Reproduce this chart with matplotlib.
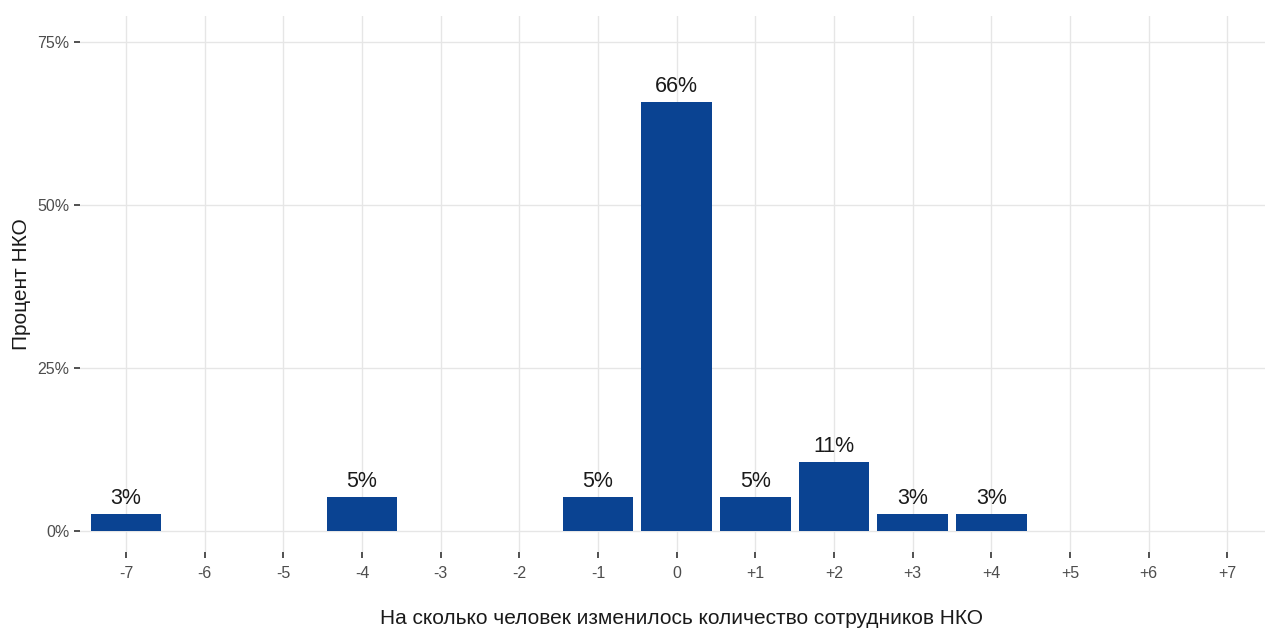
import matplotlib
matplotlib.use('Agg')
import matplotlib.pyplot as plt
from matplotlib.ticker import FuncFormatter

plt.rcParams['font.family'] = ['Liberation Sans', 'DejaVu Sans']

# change in staff count and share of NGOs (%)
changes = [-7, -4, -1, 0, 1, 2, 3, 4]
shares = [2.63, 5.26, 5.26, 65.79, 5.26, 10.53, 2.63, 2.63]
tick_values = list(range(-7, 8))
tick_labels = [('+%d' % v if v > 0 else str(v)) for v in tick_values]
y_ticks = [0, 25, 50, 75]

fig = plt.figure(figsize=(12.65, 6.28), dpi=100)
ax = fig.add_axes([80 / 1265, 1 - 552 / 628, 1185 / 1265, 536 / 628])

ax.bar(changes, shares, width=0.9, color='#0a4392', zorder=3)
for x, s in zip(changes, shares):
    ax.text(x, s + 0.8, '%d%%' % round(s), ha='center', va='bottom',
            fontsize=15.5, color='#1a1a1a', zorder=4)

ax.set_xlim(-7.585, 7.48)
ax.set_ylim(-3.22, 79)
ax.set_xticks(tick_values)
ax.set_xticklabels(tick_labels)
ax.set_yticks(y_ticks)
ax.yaxis.set_major_formatter(FuncFormatter(lambda v, p: '%d%%' % v))

ax.grid(True, color='#e6e6e6', linewidth=1, zorder=0)
for sp in ax.spines.values():
    sp.set_visible(False)
ax.tick_params(axis='both', colors='#333333', labelcolor='#4d4d4d',
               labelsize=11.5, length=4, width=1.2)
ax.tick_params(axis='x', pad=6)

ax.set_xlabel('На сколько человек изменилось количество сотрудников НКО',
              fontsize=15, color='#1a1a1a')
ax.xaxis.set_label_coords(0.5075, -0.106)
ax.set_ylabel('Процент НКО', fontsize=15, color='#1a1a1a', labelpad=5)

fig.savefig('out.png', dpi=100)
